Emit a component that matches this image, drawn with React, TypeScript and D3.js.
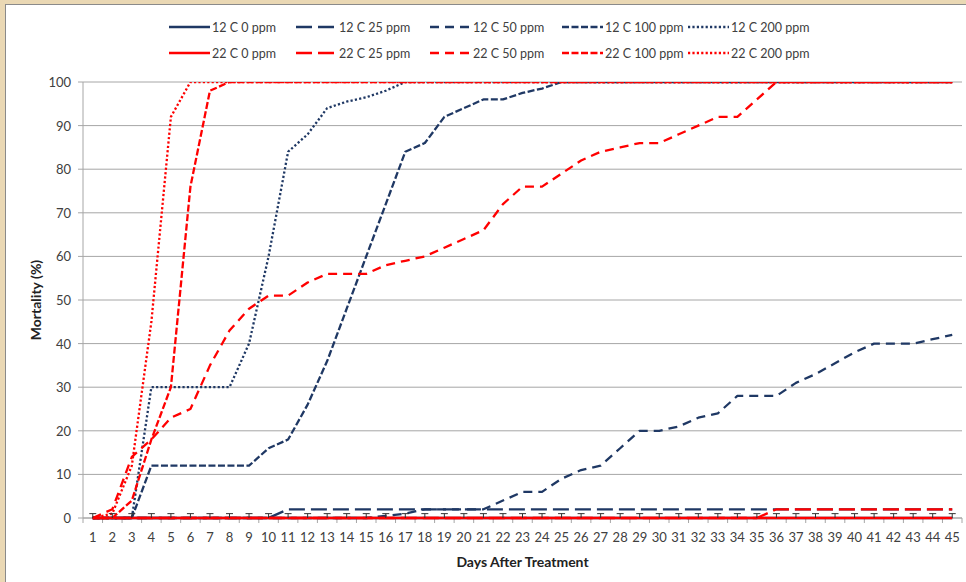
import React from 'react';
import * as d3 from 'd3';

// days after treatment (categories)
const days = [
  1, 2, 3, 4, 5, 6, 7, 8, 9, 10, 11, 12, 13, 14, 15, 16, 17, 18, 19, 20, 21, 22, 23,
  24, 25, 26, 27, 28, 29, 30, 31, 32, 33, 34, 35, 36, 37, 38, 39, 40, 41, 42, 43, 44, 45,
];

const yTicks = [0, 10, 20, 30, 40, 50, 60, 70, 80, 90, 100];

// mortality (%) per day
const c12_0 = [
  0, 0, 0, 0, 0, 0, 0, 0, 0, 0, 0, 0, 0, 0, 0, 0, 0, 0, 0, 0, 0, 0, 0,
  0, 0, 0, 0, 0, 0, 0, 0, 0, 0, 0, 0, 0, 0, 0, 0, 0, 0, 0, 0, 0, 0,
];
const c12_25 = [
  0, 0, 0, 0, 0, 0, 0, 0, 0, 0, 2, 2, 2, 2, 2, 2, 2, 2, 2, 2, 2, 2, 2,
  2, 2, 2, 2, 2, 2, 2, 2, 2, 2, 2, 2, 2, 2, 2, 2, 2, 2, 2, 2, 2, 2,
];
const c12_50 = [
  0, 0, 0, 0, 0, 0, 0, 0, 0, 0, 0, 0, 0, 0, 0, 0.5, 1, 2, 2, 2, 2, 4, 6,
  6, 9, 11, 12, 16, 20, 20, 21, 23, 24, 28, 28, 28, 31, 33, 35.5, 38, 40, 40, 40, 41, 42,
];
const c12_100 = [
  0, 0, 0, 12, 12, 12, 12, 12, 12, 16, 18, 26, 36, 48, 60, 72, 84, 86, 92, 94, 96, 96, 97.5,
  98.5, 100, 100, 100, 100, 100, 100, 100, 100, 100, 100, 100, 100, 100, 100, 100, 100, 100, 100, 100, 100, 100,
];
const c12_200 = [
  0, 0, 0, 30, 30, 30, 30, 30, 40, 60, 84, 88, 94, 95.5, 96.5, 98, 100, 100, 100, 100, 100, 100, 100,
  100, 100, 100, 100, 100, 100, 100, 100, 100, 100, 100, 100, 100, 100, 100, 100, 100, 100, 100, 100, 100, 100,
];
const c22_0 = [
  0, 0, 0, 0, 0, 0, 0, 0, 0, 0, 0, 0, 0, 0, 0, 0, 0, 0, 0, 0, 0, 0, 0,
  0, 0, 0, 0, 0, 0, 0, 0, 0, 0, 0, 0, 0, 0, 0, 0, 0, 0, 0, 0, 0, 0,
];
const c22_25 = [
  0, 0, 0, 0, 0, 0, 0, 0, 0, 0, 0, 0, 0, 0, 0, 0, 0, 0, 0, 0, 0, 0, 0,
  0, 0, 0, 0, 0, 0, 0, 0, 0, 0, 0, 0, 2, 2, 2, 2, 2, 2, 2, 2, 2, 2,
];
const c22_50 = [
  0, 2, 14, 18, 23, 25, 35, 43, 48, 51, 51, 54, 56, 56, 56, 58, 59, 60, 62, 64, 66, 72, 76,
  76, 79, 82, 84, 85, 86, 86, 88, 90, 92, 92, 96, 100, 100, 100, 100, 100, 100, 100, 100, 100, 100,
];
const c22_100 = [
  0, 0, 4, 18, 30, 76, 98, 100, 100, 100, 100, 100, 100, 100, 100, 100, 100, 100, 100, 100, 100, 100, 100,
  100, 100, 100, 100, 100, 100, 100, 100, 100, 100, 100, 100, 100, 100, 100, 100, 100, 100, 100, 100, 100, 100,
];
const c22_200 = [
  0, 1, 12, 45, 92, 100, 100, 100, 100, 100, 100, 100, 100, 100, 100, 100, 100, 100, 100, 100, 100, 100, 100,
  100, 100, 100, 100, 100, 100, 100, 100, 100, 100, 100, 100, 100, 100, 100, 100, 100, 100, 100, 100, 100, 100,
];
// error bar (+) on the control series
const c12_0_err = [
  1, 1, 1, 1, 1, 1, 1, 1, 1, 1, 1, 1, 1, 1, 1, 1, 1, 1, 1, 1, 1, 1, 1,
  1, 1, 1, 1, 1, 1, 1, 1, 1, 1, 1, 1, 1, 1, 1, 1, 1, 1, 1, 1, 1, 1,
];

const NAVY = '#1F3864';
const RED = '#FF0000';
const SOLID = 'none';
const LONG = '16 6';
const DASH = '9 6';
const SYS = '7 2.5';
const DOT = '2.2 2.2';

const series = [
  { name: '12 C 0 ppm', values: c12_0, color: NAVY, dash: SOLID },
  { name: '12 C 25 ppm', values: c12_25, color: NAVY, dash: LONG },
  { name: '12 C 50 ppm', values: c12_50, color: NAVY, dash: DASH },
  { name: '12 C 100 ppm', values: c12_100, color: NAVY, dash: SYS },
  { name: '12 C 200 ppm', values: c12_200, color: NAVY, dash: DOT },
  { name: '22 C 0 ppm', values: c22_0, color: RED, dash: SOLID },
  { name: '22 C 25 ppm', values: c22_25, color: RED, dash: LONG },
  { name: '22 C 50 ppm', values: c22_50, color: RED, dash: DASH },
  { name: '22 C 100 ppm', values: c22_100, color: RED, dash: SYS },
  { name: '22 C 200 ppm', values: c22_200, color: RED, dash: DOT },
];

const FONT = 'Lato, "Open Sans", sans-serif';

export default function App() {
  const W = 966;
  const H = 582;
  const plot = { left: 83, right: 962, top: 82, bottom: 518 };

  const x = d3
    .scaleBand<number>()
    .domain(days)
    .range([plot.left, plot.right])
    .padding(0);
  const bw = x.bandwidth();
  const cx = (d: number) => (x(d) as number) + bw / 2;

  const y = d3.scaleLinear().domain([0, 100]).range([plot.bottom, plot.top]);

  const line = d3
    .line<number>()
    .x((_, i) => cx(days[i]))
    .y((v) => y(v));

  const legendCols = [169, 296, 430, 562, 688];
  const legendRows = [27, 53];

  return (
    <svg
      width={W}
      height={H}
      style={{ position: 'absolute', left: 0, top: 0, fontFamily: FONT }}
    >
      <defs>
        <clipPath id="plotClip">
          <rect x={0} y={plot.top} width={W} height={H - plot.top} />
        </clipPath>
      </defs>
      <rect x={0} y={0} width={W} height={H} fill="#EAD8B4" />
      <rect x={5.5} y={4.5} width={W} height={H} fill="#fff" stroke="#8a8a8a" strokeWidth={1} />

      {/* gridlines */}
      {yTicks.map((t) => (
        <g key={t}>
          <line x1={plot.left} x2={plot.right} y1={y(t)} y2={y(t)} stroke="#A6A6A6" strokeWidth={1} />
          <line x1={plot.left - 5} x2={plot.left} y1={y(t)} y2={y(t)} stroke="#A6A6A6" />
          <text
            x={plot.left - 12}
            y={y(t)}
            textAnchor="end"
            dominantBaseline="central"
            fontSize={13}
            fill="#404040"
          >
            {t}
          </text>
        </g>
      ))}

      {/* axes */}
      <line x1={plot.left} x2={plot.left} y1={plot.top} y2={plot.bottom} stroke="#A6A6A6" />
      <line x1={plot.left} x2={plot.right} y1={plot.bottom} y2={plot.bottom} stroke="#A6A6A6" />
      {days.map((d) => (
        <g key={d}>
          <line
            x1={x(d) as number}
            x2={x(d) as number}
            y1={plot.bottom}
            y2={plot.bottom + 5}
            stroke="#A6A6A6"
          />
          <text
            x={cx(d)}
            y={plot.bottom + 19}
            textAnchor="middle"
            dominantBaseline="central"
            fontSize={13}
            fill="#404040"
          >
            {d}
          </text>
        </g>
      ))}
      <line
        x1={plot.right}
        x2={plot.right}
        y1={plot.bottom}
        y2={plot.bottom + 5}
        stroke="#A6A6A6"
      />

      {/* series */}
      <g clipPath="url(#plotClip)">
        {series.map((s) => (
          <path
            key={s.name}
            d={line(s.values) || ''}
            fill="none"
            stroke={s.color}
            strokeWidth={2.3}
            strokeDasharray={s.dash}
            strokeLinejoin="round"
          />
        ))}
      </g>

      {/* error bars */}
      {days.map((d, i) => {
        const yt = y(c12_0[i] + c12_0_err[i]);
        return (
          <g key={'e' + d} stroke="#333" strokeWidth={1}>
            <line x1={cx(d)} x2={cx(d)} y1={y(c12_0[i])} y2={yt} />
            <line x1={cx(d) - 3.5} x2={cx(d) + 3.5} y1={yt} y2={yt} />
          </g>
        );
      })}

      {/* legend */}
      {series.map((s, i) => {
        const lx = legendCols[i % 5];
        const ly = legendRows[Math.floor(i / 5)];
        return (
          <g key={'l' + s.name}>
            <line
              x1={lx}
              x2={lx + 41}
              y1={ly}
              y2={ly}
              stroke={s.color}
              strokeWidth={2.3}
              strokeDasharray={s.dash}
            />
            <text x={lx + 43} y={ly} dominantBaseline="central" fontSize={12.5} fill="#404040">
              {s.name}
            </text>
          </g>
        );
      })}

      {/* axis titles */}
      <text
        x={(plot.left + plot.right) / 2}
        y={561}
        textAnchor="middle"
        dominantBaseline="central"
        fontSize={14}
        fontWeight="bold"
        fill="#222"
      >
        Days After Treatment
      </text>
      <text
        transform={`translate(35, ${(plot.top + plot.bottom) / 2}) rotate(-90)`}
        textAnchor="middle"
        dominantBaseline="central"
        fontSize={14}
        fontWeight="bold"
        fill="#222"
      >
        Mortality (%)
      </text>
    </svg>
  );
}
